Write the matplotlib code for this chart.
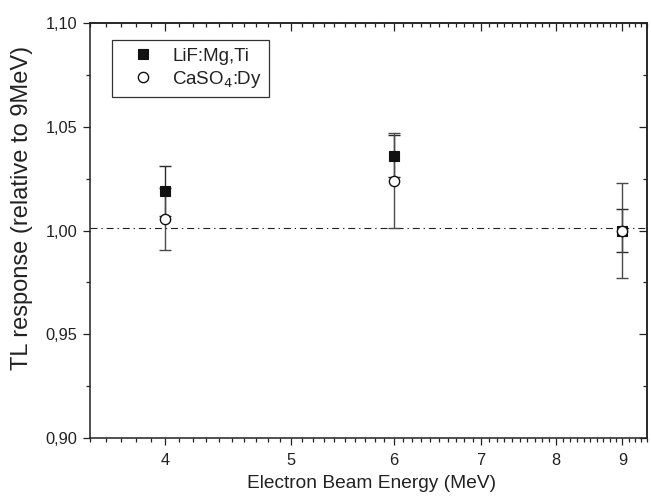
import numpy as np
import matplotlib
matplotlib.use("Agg")
import matplotlib.pyplot as plt
from matplotlib.ticker import FixedLocator, FuncFormatter, NullFormatter

# ---- data ----
energy = [4, 6, 9]
lif_resp = [1.019, 1.036, 1.000]
lif_err = [0.012, 0.010, 0.0105]
caso4_resp = [1.0055, 1.024, 1.000]
caso4_err = [0.015, 0.023, 0.023]
ref_level = 1.0013

x_major = [4, 5, 6, 7, 8, 9]
y_major = [0.90, 0.95, 1.00, 1.05, 1.10]
xlim = (3.5, 9.4)
ylim = (0.90, 1.10)

plt.rcParams['font.family'] = ['Liberation Sans', 'DejaVu Sans']
dark = '#222222'

fig = plt.figure(figsize=(6.51, 5.00), dpi=100)
ax = fig.add_axes([90/651, 62/500, 557/651, 415/500])

ax.set_xscale('log')
ax.set_xlim(*xlim)
ax.set_ylim(*ylim)

ax.axhline(ref_level, color=dark, lw=0.8, dashes=(6.3, 3.5, 1.2, 3.5), zorder=1)

ax.errorbar(energy, lif_resp, yerr=lif_err, fmt='none', ecolor='#2a2a2a',
            elinewidth=1.0, capsize=4.5, capthick=1.0, zorder=2)
ax.errorbar(energy, caso4_resp, yerr=caso4_err, fmt='none', ecolor='#4a4a4a',
            elinewidth=1.0, capsize=4.5, capthick=1.0, zorder=2)
h1, = ax.plot(energy, lif_resp, 's', ms=6.6, mfc='#111111', mec='#111111',
              mew=0.8, ls='none', zorder=3, label='LiF:Mg,Ti')
h2, = ax.plot(energy, caso4_resp, 'o', ms=7.4, mfc='white', mec='#111111',
              mew=1.0, ls='none', zorder=4, label='CaSO$_4$:Dy')

# ticks
x_minor = [float(round(v, 1)) for v in np.arange(3.5, 9.45, 0.1)
           if round(v, 1) not in x_major]
y_minor = [0.925, 0.975, 1.025, 1.075]

ax.xaxis.set_major_locator(FixedLocator(x_major))
ax.xaxis.set_minor_locator(FixedLocator(x_minor))
ax.xaxis.set_major_formatter(FuncFormatter(lambda v, p: f"{v:g}"))
ax.xaxis.set_minor_formatter(NullFormatter())
ax.yaxis.set_major_locator(FixedLocator(y_major))
ax.yaxis.set_minor_locator(FixedLocator(y_minor))
ax.yaxis.set_major_formatter(FuncFormatter(lambda v, p: f"{v:.2f}".replace('.', ',')))

ax.tick_params(which='major', direction='out', length=5, width=0.9, color=dark,
               labelsize=11.8, labelcolor=dark, pad=4)
ax.tick_params(which='minor', direction='out', length=3, width=0.9, color=dark)
ax.tick_params(axis='x', which='major', pad=6)

for s in ax.spines.values():
    s.set_linewidth(1.1)
    s.set_color(dark)

# mirrored inward ticks on top/right
top = ax.secondary_xaxis('top')
top.xaxis.set_major_locator(FixedLocator(x_major))
top.xaxis.set_minor_locator(FixedLocator(x_minor))
top.xaxis.set_major_formatter(NullFormatter())
top.xaxis.set_minor_formatter(NullFormatter())
top.tick_params(which='major', direction='in', length=5.5, width=0.9, color=dark)
top.tick_params(which='minor', direction='in', length=3, width=0.9, color=dark)
top.spines['top'].set_linewidth(1.1)
top.spines['top'].set_color(dark)

right = ax.secondary_yaxis('right')
right.yaxis.set_major_locator(FixedLocator(y_major))
right.yaxis.set_minor_locator(FixedLocator(y_minor))
right.yaxis.set_major_formatter(NullFormatter())
right.tick_params(which='major', direction='in', length=5.5, width=0.9, color=dark)
right.tick_params(which='minor', direction='in', length=3, width=0.9, color=dark)
right.spines['right'].set_linewidth(1.1)
right.spines['right'].set_color(dark)

ax.set_xlabel('Electron Beam Energy (MeV)', fontsize=13.8, color=dark)
ax.xaxis.set_label_coords(0.505, -0.089)
ax.set_ylabel('TL response (relative to 9MeV)', fontsize=17, color=dark)
ax.yaxis.set_label_coords(-0.103, 0.554)

leg = ax.legend(handles=[h1, h2], loc='upper left', bbox_to_anchor=(22/557, 398/415),
                borderaxespad=0, frameon=True, fancybox=False, framealpha=1,
                edgecolor='#333333', fontsize=13.5, handlelength=2.5,
                handletextpad=0.3, borderpad=0.4, labelspacing=0.22, numpoints=1)
leg.get_frame().set_linewidth(0.9)
for t in leg.get_texts():
    t.set_color(dark)

fig.savefig('out.png', dpi=100)
